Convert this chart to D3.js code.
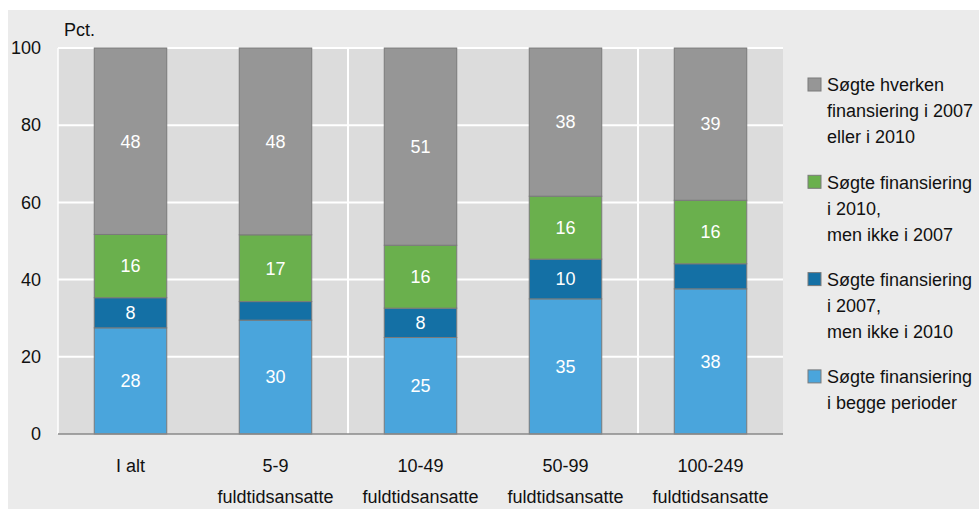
<!DOCTYPE html>
<html><head><meta charset="utf-8">
<script src="https://cdn.jsdelivr.net/npm/d3@7"></script>
<style>
html,body{margin:0;padding:0;background:#fff;}
svg{display:block;}
text{font-family:"Liberation Sans",Arial,sans-serif;}
</style></head>
<body><svg id="c" width="979" height="509"></svg>
<script>
const categories = [["I alt"],["5-9","fuldtidsansatte"],["10-49","fuldtidsansatte"],["50-99","fuldtidsansatte"],["100-249","fuldtidsansatte"]];
const begge    = [27.5, 29.5, 25.0, 35.0, 37.6];
const kun2007  = [7.8, 4.8, 7.6, 10.3, 6.5];
const kun2010  = [16.4, 17.3, 16.3, 16.3, 16.45];
const hverken  = [48.3, 48.4, 51.1, 38.4, 39.45];
const yTicks = [0, 20, 40, 60, 80, 100];
const seriesNames = [
  ["Søgte finansiering","i begge perioder"],
  ["Søgte finansiering","i 2007,","men ikke i 2010"],
  ["Søgte finansiering","i 2010,","men ikke i 2007"],
  ["Søgte hverken","finansiering i 2007","eller i 2010"]
];
const colors = ["#4aa5dc", "#1470a5", "#6ab04d", "#969696"];

const svg = d3.select("#c");
svg.append("rect").attr("x",8).attr("y",10).attr("width",971).attr("height",499).attr("fill","#ebebeb");

const m = {l:58, r:783, t:48, b:434};
const x = d3.scaleBand().domain(d3.range(categories.length)).range([m.l, m.r]).paddingInner(0).paddingOuter(0);
const y = d3.scaleLinear().domain([0,100]).range([m.b, m.t]);

svg.append("rect").attr("x",m.l).attr("y",m.t).attr("width",m.r-m.l).attr("height",m.b-m.t).attr("fill","#dcdcdc");

svg.append("g").selectAll("line").data(yTicks.filter(d=>d>0)).join("line")
  .attr("x1",m.l).attr("x2",m.r).attr("y1",d=>y(d)).attr("y2",d=>y(d))
  .attr("stroke","#fff").attr("stroke-width",2);
svg.append("g").selectAll("line").data([2,4]).join("line")
  .attr("x1",d=>x(d)).attr("x2",d=>x(d)).attr("y1",m.t).attr("y2",m.b)
  .attr("stroke","#fff").attr("stroke-width",2);
svg.append("line").attr("x1",m.l).attr("x2",m.l).attr("y1",m.t).attr("y2",m.b).attr("stroke","#fff").attr("stroke-width",1.5);

const stackRows = categories.map((c,i)=>({i, s0:begge[i], s1:kun2007[i], s2:kun2010[i], s3:hverken[i]}));
const stack = d3.stack().keys(["s0","s1","s2","s3"])(stackRows);
const bw = x.bandwidth()*0.5;
stack.forEach((layer,k)=>{
  const g = svg.append("g");
  g.selectAll("rect").data(layer).join("rect")
    .attr("x",d=>x(d.data.i)+(x.bandwidth()-bw)/2)
    .attr("width",bw)
    .attr("y",d=>y(d[1]))
    .attr("height",d=>y(d[0])-y(d[1]))
    .attr("fill",colors[k]).attr("stroke","#7a7a7a").attr("stroke-width",1);
  g.selectAll("text").data(layer.filter(d=>(d[1]-d[0])>=7)).join("text")
    .attr("x",d=>x(d.data.i)+x.bandwidth()/2)
    .attr("y",d=>y((d[0]+d[1])/2))
    .attr("dy","0.35em").attr("text-anchor","middle")
    .attr("fill","#fff").attr("font-size",18)
    .text(d=>Math.round(d[1]-d[0]));
});

svg.append("line").attr("x1",m.l).attr("x2",m.r).attr("y1",m.b).attr("y2",m.b).attr("stroke","#8a8a8a").attr("stroke-width",1.5);

const yAxis = d3.axisLeft(y).tickValues(yTicks).tickSize(0).tickPadding(17);
const ya = svg.append("g").attr("transform",`translate(${m.l},0)`).call(yAxis);
ya.select(".domain").remove();
ya.selectAll("text").attr("font-size",18).attr("fill","#111").style("font-family",'"Liberation Sans",Arial,sans-serif');

svg.append("text").attr("x",64).attr("y",36).attr("font-size",18).attr("fill","#111").text("Pct.");

const xl = svg.append("g").selectAll("text").data(categories).join("text")
  .attr("x",(d,i)=>x(i)+x.bandwidth()/2).attr("y",472).attr("text-anchor","middle")
  .attr("font-size",18).attr("fill","#111");
xl.selectAll("tspan").data(d=>d).join("tspan")
  .attr("x",function(){return this.parentNode.getAttribute("x");})
  .attr("dy",(d,j)=>j===0?0:31).text(d=>d);

const legOrder = [3,2,1,0];
const leg = svg.append("g");
legOrder.forEach((k,idx)=>{
  const top = 85 + idx*97.3;
  leg.append("rect").attr("x",808).attr("y",top-7).attr("width",13).attr("height",13)
    .attr("fill",colors[k]).attr("stroke","#7a7a7a").attr("stroke-width",1);
  const t = leg.append("text").attr("x",827).attr("y",top).attr("font-size",18).attr("fill","#111");
  seriesNames[k].forEach((line,j)=>{
    t.append("tspan").attr("x",827).attr("y",top+j*26).attr("dy","0.35em").text(line);
  });
});
</script></body></html>
